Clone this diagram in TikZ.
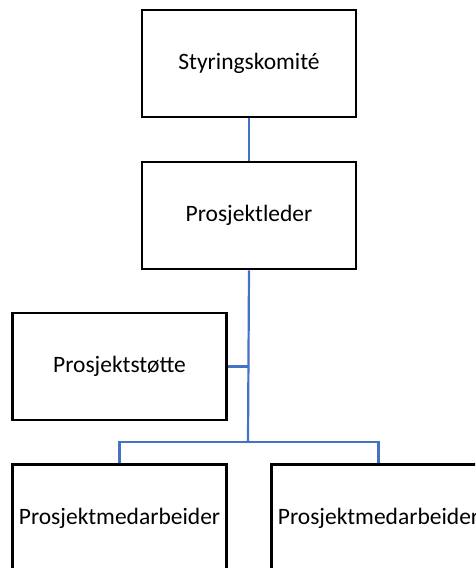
\documentclass[tikz,border=0pt]{standalone}
\usepackage{fontspec}
\setmainfont{Carlito}
\begin{document}
\begin{tikzpicture}[x=1pt,y=-1pt,
  box/.style={draw=black,line width=2.6pt,fill=white,rectangle,minimum width=214pt,minimum height=107pt,inner sep=0pt,font=\fontsize{23.5}{26}\selectfont},
  conn/.style={draw={rgb,255:red,68;green,114;blue,196},line width=2.2pt}]
\useasboundingbox (0,0) rectangle (475,568);
\clip (0,0) rectangle (475,568);
\node[box] (sk) at (249,63.5) {Styringskomité};
\node[box] (pl) at (249,215.5) {Prosjektleder};
\node[box] (ps) at (119.5,366.5) {Prosjektstøtte};
\node[box] (m1) at (119.5,518) {Prosjektmedarbeider};
\node[box] (m2) at (378.5,518) {Prosjektmedarbeider};
\coordinate (j) at (248,442);
\draw[conn] (sk.south) -- (pl.north);
\draw[conn] (pl.south) -- (j);
\draw[conn] (ps.east) -- (ps.east -| j);
\draw[conn] (j) -| (m1.north);
\draw[conn] (j) -| (m2.north);
\end{tikzpicture}
\end{document}
